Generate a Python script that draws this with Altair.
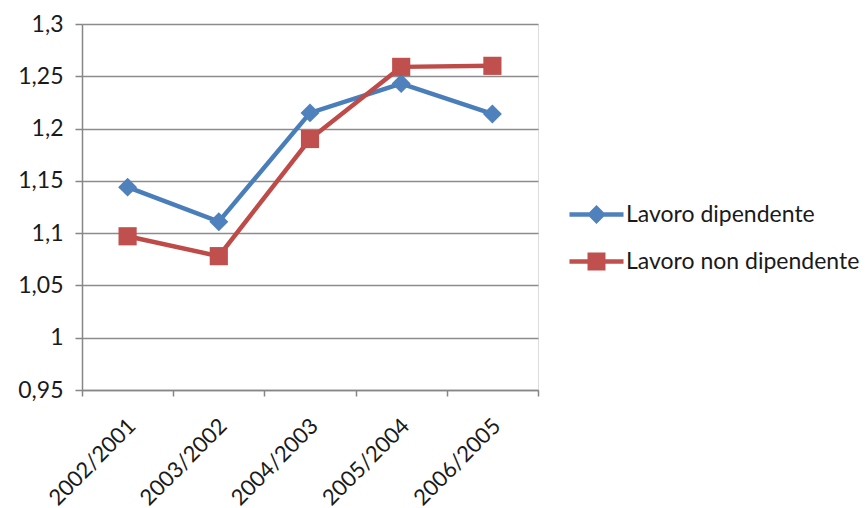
import altair as alt
import pandas as pd

categories = ["2002/2001", "2003/2002", "2004/2003", "2005/2004", "2006/2005"]
dipendente = [1.144, 1.111, 1.215, 1.243, 1.214]
non_dipendente = [1.097, 1.078, 1.190, 1.259, 1.260]
series_names = ["Lavoro dipendente", "Lavoro non dipendente"]
y_ticks = [0.95, 1.0, 1.05, 1.1, 1.15, 1.2, 1.25, 1.3]

rows = []
for c, a, b in zip(categories, dipendente, non_dipendente):
    rows.append({"cat": c, "serie": series_names[0], "val": a})
    rows.append({"cat": c, "serie": series_names[1], "val": b})
df = pd.DataFrame(rows)

FONT = "Lato"
line_colors = ["#4A7EBB", "#BE4B48"]
marker_colors = ["#4F81BD", "#C0504D"]

x_enc = alt.X("cat:N", sort=categories, title=None,
              scale=alt.Scale(paddingInner=0, paddingOuter=0),
              axis=alt.Axis(labelAngle=-45, tickBand="extent", grid=False,
                            domainColor="#868686", tickColor="#868686",
                            domainWidth=1.5, tickWidth=1.5, tickSize=6,
                            labelPadding=19, labelOffset=-3,
                            labelFont=FONT, labelFontSize=22, labelColor="#1a1a1a"))
y_enc = alt.Y("val:Q", title=None,
              scale=alt.Scale(domain=[0.95, 1.3], nice=False, zero=False),
              axis=alt.Axis(values=y_ticks, grid=True, gridColor="#8c8c8c", gridWidth=1.3,
                            domainColor="#868686", tickColor="#868686",
                            domainWidth=1.5, tickWidth=1.5, tickSize=7,
                            labelPadding=12,
                            labelExpr="replace(format(datum.value, '.2~f'), '.', ',')",
                            labelFont=FONT, labelFontSize=23, labelColor="#1a1a1a"))

base = alt.Chart(df)

layers = []
shapes = ["diamond", "square"]
sizes = [360, 330]
for i, name in enumerate(series_names):
    sub = base.transform_filter(alt.datum.serie == name)
    layers.append(sub.mark_line(strokeWidth=4.5, color=line_colors[i]).encode(x=x_enc, y=y_enc))
for i, name in enumerate(series_names):
    sub = base.transform_filter(alt.datum.serie == name)
    layers.append(sub.mark_point(shape=shapes[i], filled=True, size=sizes[i], opacity=1,
                                 color=marker_colors[i]).encode(x=x_enc, y=y_enc))

diamond_path = ("M-1.4,-0.117L-0.373,-0.117L0,-0.49L0.373,-0.117L1.4,-0.117"
                "L1.4,0.117L0.373,0.117L0,0.49L-0.373,0.117L-1.4,0.117Z")
square_path = ("M-1.4,-0.117L-0.466,-0.117L-0.466,-0.466L0.466,-0.466L0.466,-0.117L1.4,-0.117"
               "L1.4,0.117L0.466,0.117L0.466,0.466L-0.466,0.466L-0.466,0.117L-1.4,0.117Z")

legend = alt.Legend(title=None, orient="none", legendX=495, legendY=171,
                    symbolSize=1490, symbolStrokeWidth=0, rowPadding=15,
                    labelOffset=10, labelLimit=0, labelFont=FONT, labelFontSize=23,
                    labelColor="#1a1a1a", padding=0)

legend_layer = base.transform_calculate(hidden="0.5").mark_point(
    filled=True, opacity=1, clip=True
).encode(
    x=x_enc,
    y=alt.Y("hidden:Q"),
    color=alt.Color("serie:N", scale=alt.Scale(domain=series_names, range=marker_colors), legend=legend),
    shape=alt.Shape("serie:N", scale=alt.Scale(domain=series_names, range=[diamond_path, square_path]), legend=legend),
)
layers.append(legend_layer)

chart = alt.layer(*layers).properties(
    width=456, height=366,
    autosize=alt.AutoSizeParams(type="none"),
    padding={"left": 82, "top": 24, "right": 328, "bottom": 118},
).configure_view(stroke=None).configure(background="white")

chart.save("out.html", embed_options={"renderer": "svg", "actions": False})
